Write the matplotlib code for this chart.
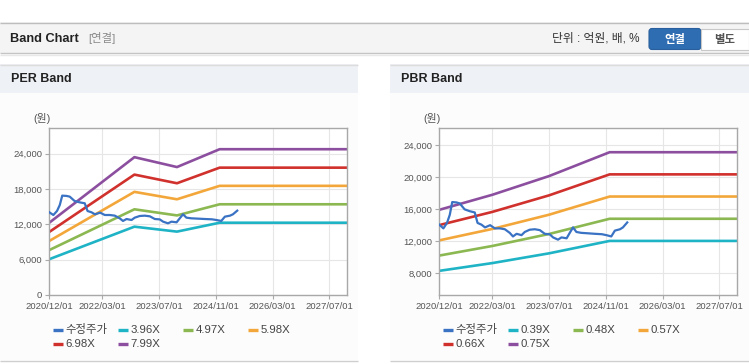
import numpy as np
import pandas as pd
import matplotlib
matplotlib.use('Agg')
import matplotlib.pyplot as plt
from matplotlib.patches import Rectangle, FancyBboxPatch

W, H = 749, 364

# 수정주가 (same series on both charts)
price_dates = ["2020-12-01", "2021-01-05", "2021-02-05", "2021-03-01", "2021-03-22", "2021-04-28",
               "2021-05-25", "2021-07-06", "2021-08-18", "2021-10-01", "2021-10-25", "2021-11-28",
               "2021-12-28", "2022-02-10", "2022-03-22", "2022-05-04", "2022-06-16", "2022-07-28",
               "2022-08-25", "2022-09-25", "2022-11-06", "2022-12-04", "2023-01-15", "2023-02-28",
               "2023-04-12", "2023-05-25", "2023-07-06", "2023-08-04", "2023-09-15", "2023-10-15",
               "2023-11-28", "2023-12-25", "2024-01-22", "2024-02-20", "2024-04-01", "2024-06-01",
               "2024-07-28", "2024-09-25", "2024-11-04", "2024-12-15", "2025-01-15", "2025-02-28",
               "2025-03-25", "2025-05-01"]
price_vals = [14040, 13580, 14260, 15280, 16870, 16820, 16700, 15960, 15730, 15570,
              14260, 14040, 13700, 13980, 13580, 13580, 13470, 13020, 12570, 12900,
              12730, 13130, 13410, 13470, 13360, 12900, 12840, 12450, 12170, 12450,
              12340, 13020, 13700, 13130, 13020, 12960, 12900, 12850, 12730, 12570,
              13300, 13470, 13700, 14320]

# PER band
per_dates = ["2020-12-01", "2022-12-01", "2023-12-01", "2024-12-01", "2027-12-01"]
per_396 = [6080, 11600, 10760, 12270, 12270]
per_497 = [7630, 14550, 13510, 15400, 15400]
per_598 = [9180, 17510, 16250, 18530, 18530]
per_698 = [10710, 20440, 18970, 21620, 21620]
per_799 = [12270, 23400, 21720, 24750, 24750]
per_labels = ["3.96X", "4.97X", "5.98X", "6.98X", "7.99X"]
per_yticks = [0, 6000, 12000, 18000, 24000]

# PBR band
pbr_dates = ["2020-12-01", "2022-03-01", "2023-07-01", "2024-12-01", "2027-12-01"]
pbr_039 = [8270, 9240, 10460, 12010, 12010]
pbr_048 = [10180, 11380, 12880, 14780, 14780]
pbr_057 = [12080, 13510, 15290, 17560, 17560]
pbr_066 = [13990, 15640, 17710, 20330, 20330]
pbr_075 = [15900, 17780, 20120, 23100, 23100]
pbr_labels = ["0.39X", "0.48X", "0.57X", "0.66X", "0.75X"]
pbr_yticks = [8000, 12000, 16000, 20000, 24000]

tick_dates = ["2020-12-01", "2022-03-01", "2023-07-01", "2024-11-01", "2026-03-01", "2027-07-01"]
tick_labels = [d.replace("-", "/") for d in tick_dates]

price_color = '#3a72c4'
band_colors = ['#1fb3c6', '#8cb852', '#f3a73a', '#d0312d', '#8c4f9f']
latin_kr = ['Liberation Sans', 'Noto Sans CJK KR']

fig = plt.figure(figsize=(W / 100, H / 100), dpi=100)
bg = fig.add_axes([0, 0, 1, 1])
bg.set_xlim(0, W)
bg.set_ylim(H, 0)
bg.axis('off')


def box(x0, y0, x1, y1, **kw):
    bg.add_patch(Rectangle((x0, y0), x1 - x0, y1 - y0, **kw))


def hline(y, x0, x1, color, lw=1):
    bg.plot([x0, x1], [y, y], color=color, lw=lw, solid_capstyle='butt')


# top header bar
box(0, 22, W, 53, facecolor='#f4f4f4', edgecolor='none')
hline(22.5, 0, W, '#bdbdbd')
hline(53, 0, W, '#c4c4c4')
hline(54.5, 0, W, '#e8e8e8')
bg.text(10, 38.5, "Band Chart", fontsize=9.2, fontweight='bold', family='Liberation Sans',
        color='#222', va='center')
bg.text(88, 38.5, "[연결]", fontsize=8.2, family=latin_kr, color='#8a8a8a', va='center')
bg.text(552, 38.5, "단위 : 억원, 배, %", fontsize=8.5, family=latin_kr, color='#333', va='center')
bg.add_patch(FancyBboxPatch((649, 28.5), 52, 21, boxstyle="round,pad=0,rounding_size=3",
                            facecolor='#2f6db2', edgecolor='#285f9c', lw=0.8))
bg.add_patch(Rectangle((701, 28.5), 48, 21, facecolor='white', edgecolor='#c8c8c8', lw=0.8))
bg.text(675, 39, "연결", fontsize=8.2, fontweight='bold', family='Noto Sans CJK KR',
        color='white', ha='center', va='center')
bg.text(725, 39, "별도", fontsize=8.2, fontweight='bold', family='Noto Sans CJK KR',
        color='#555', ha='center', va='center')

# panels
for px0, px1, title in [(0, 358, "PER Band"), (390, W, "PBR Band")]:
    box(px0, 64, px1, 360, facecolor='#fcfcfc', edgecolor='none')
    box(px0, 64, px1, 93, facecolor='#eef1f6', edgecolor='none')
    hline(64.5, px0, px1, '#dcdcdc')
    hline(360.5, px0, px1, '#cfcfcf')
    bg.text(px0 + 11, 79.5, title, fontsize=9, fontweight='bold', family='Liberation Sans',
            color='#222', va='center')
    bg.text(px0 + 33, 118, "(원)", fontsize=7.8, family=latin_kr, color='#555', va='center')


def draw_chart(x0, band_dates, bands, labels, yticks, ylim):
    ax = fig.add_axes([x0 / W, 1 - 295 / H, 298 / W, (295 - 128.3) / H])
    ax.set_facecolor('white')
    bd = pd.to_datetime(band_dates)
    for vals, c in zip(bands, band_colors):
        ax.plot(bd, vals, color=c, lw=1.9, zorder=2)
    ax.plot(pd.to_datetime(price_dates), price_vals, color=price_color, lw=1.6, zorder=3)
    ax.set_xlim(pd.Timestamp("2020-12-01"), pd.Timestamp("2027-12-01"))
    ax.set_ylim(*ylim)
    ax.set_xticks(pd.to_datetime(tick_dates))
    ax.set_xticklabels(tick_labels, family='Liberation Sans', fontsize=6.8, color='#555')
    ax.set_yticks(yticks)
    ax.set_yticklabels([f"{v:,}" for v in yticks], family='Liberation Sans', fontsize=6.8,
                       color='#555')
    ax.tick_params(length=3, width=0.8, color='#aaaaaa', pad=2)
    ax.grid(True, color='#e6e6e6', lw=0.8)
    ax.set_axisbelow(True)
    for s in ax.spines.values():
        s.set_color('#a8a8a8')
        s.set_linewidth(1)

    # legend, 4 columns
    names = ["수정주가"] + labels
    colors = [price_color] + band_colors
    for i, (name, c) in enumerate(zip(names, colors)):
        lx = x0 + 3.5 + (i % 4) * 65
        ly = 330 + (i // 4) * 14.3
        hline(ly, lx, lx + 10, c, lw=2.4)
        bg.text(lx + 13, ly, name, fontsize=8.2, family=latin_kr, color='#444', va='center')
    return ax


draw_chart(49.3, per_dates, [per_396, per_497, per_598, per_698, per_799], per_labels,
           per_yticks, (0, 28300))
draw_chart(439.3, pbr_dates, [pbr_039, pbr_048, pbr_057, pbr_066, pbr_075], pbr_labels,
           pbr_yticks, (5250, 26090))

fig.savefig("out.png", dpi=100)
